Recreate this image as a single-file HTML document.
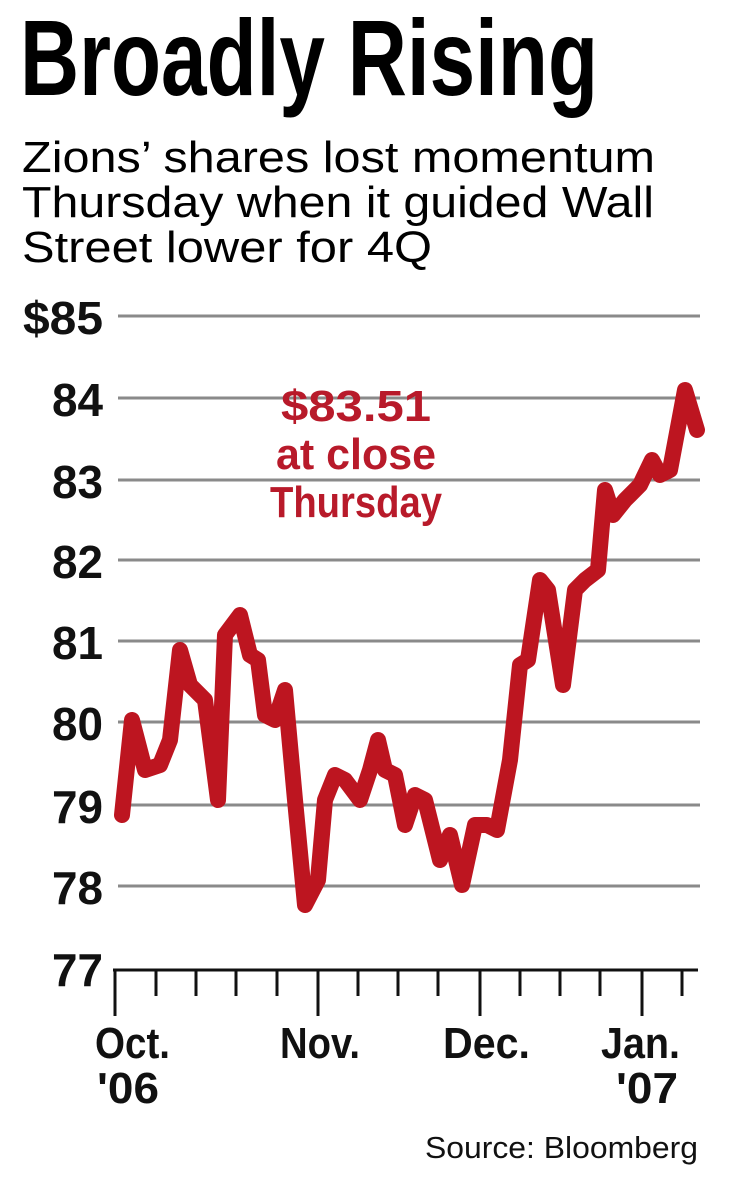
<!DOCTYPE html>
<html><head><meta charset="utf-8"><style>html,body{margin:0;padding:0;background:#fff}svg{display:block}</style></head>
<body>
<svg width="740" height="1183" viewBox="0 0 740 1183" xmlns="http://www.w3.org/2000/svg">
<g font-family="Liberation Sans, sans-serif">
<text x="20" y="95" font-size="108" font-weight="bold" textLength="578" lengthAdjust="spacingAndGlyphs">Broadly Rising</text>
<text x="22" y="172" font-size="44" textLength="633" lengthAdjust="spacingAndGlyphs">Zions’ shares lost momentum</text>
<text x="22" y="217" font-size="44" textLength="632" lengthAdjust="spacingAndGlyphs">Thursday when it guided Wall</text>
<text x="22" y="262" font-size="44" textLength="410" lengthAdjust="spacingAndGlyphs">Street lower for 4Q</text>
</g>
<g stroke="#8a8a8a" stroke-width="3">
<line x1="118" y1="316" x2="700" y2="316"/>
<line x1="118" y1="398" x2="700" y2="398"/>
<line x1="118" y1="480" x2="700" y2="480"/>
<line x1="118" y1="560" x2="700" y2="560"/>
<line x1="118" y1="641" x2="700" y2="641"/>
<line x1="118" y1="722" x2="700" y2="722"/>
<line x1="118" y1="805" x2="700" y2="805"/>
<line x1="118" y1="886" x2="700" y2="886"/>
</g>
<g font-family="Liberation Sans, sans-serif" font-size="46" font-weight="bold" text-anchor="end" fill="#111">
<text x="103" y="334" textLength="80" lengthAdjust="spacingAndGlyphs">$85</text>
<text x="103" y="416" textLength="51" lengthAdjust="spacingAndGlyphs">84</text>
<text x="103" y="498" textLength="51" lengthAdjust="spacingAndGlyphs">83</text>
<text x="103" y="578" textLength="51" lengthAdjust="spacingAndGlyphs">82</text>
<text x="103" y="659" textLength="51" lengthAdjust="spacingAndGlyphs">81</text>
<text x="103" y="740" textLength="51" lengthAdjust="spacingAndGlyphs">80</text>
<text x="103" y="823" textLength="51" lengthAdjust="spacingAndGlyphs">79</text>
<text x="103" y="904" textLength="51" lengthAdjust="spacingAndGlyphs">78</text>
<text x="103" y="986" textLength="51" lengthAdjust="spacingAndGlyphs">77</text>
</g>
<g stroke="#111" stroke-width="3">
<line x1="113" y1="970" x2="698" y2="970"/>
<line x1="115" y1="970" x2="115" y2="1016"/>
<line x1="318" y1="970" x2="318" y2="1016"/>
<line x1="480" y1="970" x2="480" y2="1016"/>
<line x1="642" y1="970" x2="642" y2="1016"/>
<line x1="156" y1="970" x2="156" y2="996"/>
<line x1="196" y1="970" x2="196" y2="996"/>
<line x1="236" y1="970" x2="236" y2="996"/>
<line x1="277" y1="970" x2="277" y2="996"/>
<line x1="358" y1="970" x2="358" y2="996"/>
<line x1="398" y1="970" x2="398" y2="996"/>
<line x1="438" y1="970" x2="438" y2="996"/>
<line x1="520" y1="970" x2="520" y2="996"/>
<line x1="560" y1="970" x2="560" y2="996"/>
<line x1="600" y1="970" x2="600" y2="996"/>
<line x1="682" y1="970" x2="682" y2="996"/>
</g>
<g font-family="Liberation Sans, sans-serif" font-size="44" font-weight="bold" fill="#111">
<text x="95" y="1058" textLength="75" lengthAdjust="spacingAndGlyphs">Oct.</text>
<text x="97" y="1103" textLength="62" lengthAdjust="spacingAndGlyphs">'06</text>
<text x="280" y="1058" textLength="80" lengthAdjust="spacingAndGlyphs">Nov.</text>
<text x="443" y="1058" textLength="87" lengthAdjust="spacingAndGlyphs">Dec.</text>
<text x="601" y="1058" textLength="79" lengthAdjust="spacingAndGlyphs">Jan.</text>
<text x="616" y="1103" textLength="62" lengthAdjust="spacingAndGlyphs">'07</text>
</g>
<text x="425" y="1158" font-family="Liberation Sans, sans-serif" font-size="31" fill="#111" textLength="273" lengthAdjust="spacingAndGlyphs">Source: Bloomberg</text>
<polyline fill="none" stroke="#bd1520" stroke-width="16" stroke-linejoin="round" stroke-linecap="round"
points="122,815 132,720 145,770 160,765 170,740 180,650 190,685 205,700 218,800 225,635 240,615 250,655 258,660 265,715 275,720 285,690 295,800 305,905 318,880 325,800 335,775 345,780 360,800 370,770 378,740 385,770 395,775 405,825 415,795 425,800 440,860 450,835 462,885 475,825 487,825 497,830 510,760 520,665 528,660 540,580 548,590 563,685 575,590 585,580 598,570 605,490 613,515 625,500 640,485 652,460 660,475 670,470 685,390 697,430"/>
<g font-family="Liberation Sans, sans-serif" font-size="44" font-weight="bold" fill="#b81a2a" text-anchor="middle">
<text x="356" y="421" textLength="150" lengthAdjust="spacingAndGlyphs">$83.51</text>
<text x="356" y="469" textLength="160" lengthAdjust="spacingAndGlyphs">at close</text>
<text x="356" y="517" textLength="172" lengthAdjust="spacingAndGlyphs">Thursday</text>
</g>
</svg>
</body></html>
